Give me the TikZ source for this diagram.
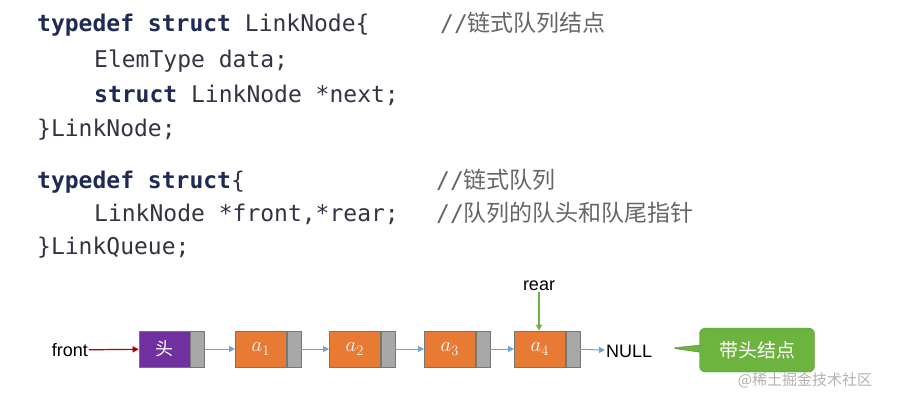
\documentclass[tikz,border=0pt]{standalone}
\usepackage{fontspec}
\setmainfont{Liberation Sans}
\newfontfamily\codef{DejaVu Sans Mono}
\newfontfamily\cjk{Noto Sans CJK SC}
\usetikzlibrary{arrows.meta,shapes.callouts}
\definecolor{kw}{HTML}{1F2A55}
\definecolor{tx}{HTML}{333344}
\definecolor{cm}{HTML}{666666}
\definecolor{org}{HTML}{E87A33}
\definecolor{pur}{HTML}{7030A0}
\definecolor{gry}{HTML}{A8A8A8}
\definecolor{blu}{HTML}{6FA3D2}
\definecolor{grn}{HTML}{6DB33F}
\begin{document}
\begin{tikzpicture}[x=1pt,y=-1pt,
 code/.style={anchor=base west,inner sep=0pt,font=\codef\fontsize{23}{23}\selectfont,text=tx},
 cmt/.style={anchor=base west,inner sep=0pt,font=\codef\fontsize{23}{23}\selectfont,text=cm},
 data/.style={draw=gry!70!black,line width=0.6pt,minimum width=51pt,minimum height=36pt,inner sep=0pt,text=white,font=\fontsize{20}{20}\selectfont\itshape},
 ptr/.style={draw=gry!70!black,fill=gry,line width=0.6pt,minimum width=14pt,minimum height=36pt,inner sep=0pt},
 link/.style={draw=blu,line width=1pt,-{Triangle[length=6pt,width=6pt]}},
 lbl/.style={font=\fontsize{18}{18}\selectfont,text=black,inner sep=1pt}]
\useasboundingbox (0,0) rectangle (899,404);
\fill[white] (0,0) rectangle (899,404);
% code
\node[code] (l1) at (37,32) {\textbf{\color{kw}typedef struct} LinkNode\{};
\node[cmt] (c1) at (440,32) {//{\cjk 链式队列结点}};
\node[code] (l2) at (94,67) {ElemType data;};
\node[code] (l3) at (94,102) {\textbf{\color{kw}struct} LinkNode *next;};
\node[code] (l4) at (37,136) {\}LinkNode;};
\node[code] (l5) at (37,188) {\textbf{\color{kw}typedef struct}\{};
\node[cmt] (c5) at (436,188) {//{\cjk 链式队列}};
\node[code] (l6) at (94,221) {LinkNode *front,*rear;};
\node[cmt] (c6) at (436,221) {//{\cjk 队列的队头和队尾指针}};
\node[code] (l7) at (37,254) {\}LinkQueue;};
% nodes
\node[data,fill=pur,font=\cjk\fontsize{18}{18}\selectfont] (h) at (164.5,349) {头};
\node[ptr,anchor=west] (hp) at (h.east) {};
\foreach \n/\x/\i in {n1/235/1,n2/329/2,n3/424/3,n4/514/4}{
 \node[data,fill=org,anchor=west] (\n) at (\x,349) {$a_{\i}$};
 \node[ptr,anchor=west] (\n p) at (\n.east) {};
}
\node[lbl,anchor=west] (null) at (605,351) {NULL};
\node[lbl,anchor=east] (front) at (89,350) {front};
\node[lbl] (rear) at (539,286) {rear};
\draw[draw=red!70!black,line width=1.2pt,-{Triangle[length=6pt,width=6pt]}] (front) -- (h);
\draw[draw=grn,line width=1.2pt,-{Triangle[length=6pt,width=6pt]}] (rear) -- (n4.north east -| 539,330);
\draw[link] (hp) -- (n1);
\draw[link] (n1p) -- (n2);
\draw[link] (n2p) -- (n3);
\draw[link] (n3p) -- (n4);
\draw[link] (n4p) -- (null);
\node[rectangle callout,rounded corners=6pt,fill=grn,draw=grn!80!black,minimum width=115pt,minimum height=44pt,
 callout absolute pointer={(671,348)},text=white,font=\cjk\fontsize{19}{19}\selectfont] (call) at (757,350) {带头结点};
\node[text=gray!60,font=\cjk\fontsize{15}{15}\selectfont,inner sep=0pt] (wm) at (805,380) {@稀土掘金技术社区};
\end{tikzpicture}
\end{document}
